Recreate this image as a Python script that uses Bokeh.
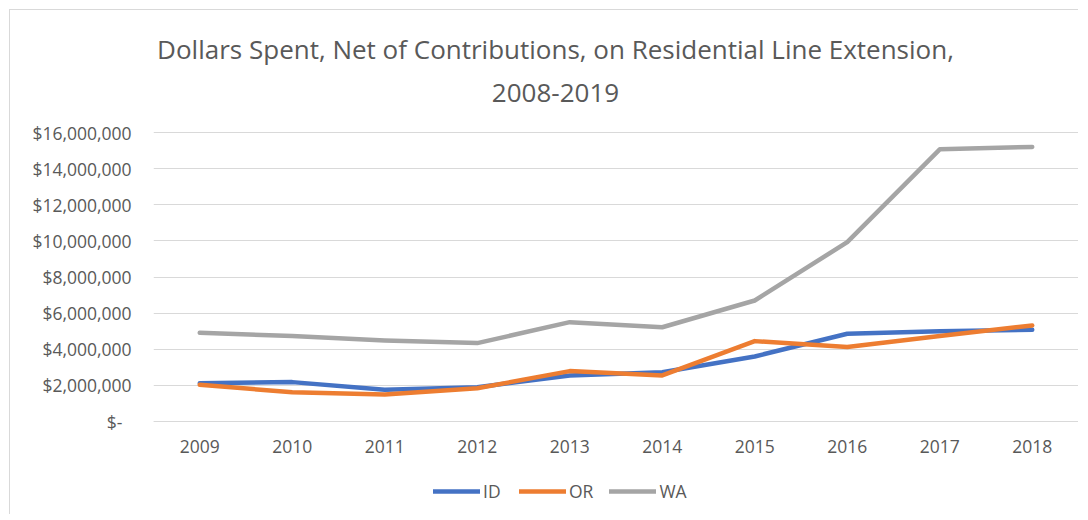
from bokeh.plotting import figure
from bokeh.models import Range1d, FactorRange, Legend, LegendItem, Label, FixedTicker
from bokeh.embed import file_html
from bokeh.resources import INLINE

# ---- data ----
years = ["2009", "2010", "2011", "2012", "2013", "2014", "2015", "2016", "2017", "2018"]
id_vals = [2120000, 2180000, 1760000, 1900000, 2550000, 2730000, 3600000, 4860000, 4990000, 5080000]
or_vals = [2030000, 1620000, 1500000, 1840000, 2790000, 2550000, 4450000, 4120000, 4730000, 5320000]
wa_vals = [4910000, 4730000, 4490000, 4340000, 5500000, 5220000, 6700000, 9930000, 15070000, 15200000]
series_names = ["ID", "OR", "WA"]
y_ticks = [0, 2000000, 4000000, 6000000, 8000000, 10000000, 12000000, 14000000, 16000000]
y_tick_labels = ["$-\u00a0\u00a0", "$2,000,000", "$4,000,000", "$6,000,000", "$8,000,000",
                 "$10,000,000", "$12,000,000", "$14,000,000", "$16,000,000"]
title_lines = ["Dollars Spent, Net of Contributions, on Residential Line Extension,", "2008-2019"]

colors = ["#4472C4", "#ED7D31", "#A5A5A5"]
FONT = "Open Sans"
TXT = "#595959"

# frame spans nearly the whole canvas so title and legend can sit inside it;
# value axis 0..16M occupies pixel rows 421..132 of the page
FRAME_TOP, FRAME_BOTTOM, Y0_PX, YMAX_PX = 20, 510, 421, 132
per_px = y_ticks[-1] / (Y0_PX - YMAX_PX)
y_start = -(FRAME_BOTTOM - Y0_PX) * per_px
y_end = y_ticks[-1] + (YMAX_PX - FRAME_TOP) * per_px

p = figure(x_range=FactorRange(*years), y_range=Range1d(y_start, y_end),
           width=1069, height=505, title_location=None,
           min_border_left=143, min_border_right=1, min_border_top=10, min_border_bottom=5,
           output_backend="svg", toolbar_location=None)
p.styles = {"margin-left": "9px", "margin-top": "9px",
            "border-left": "1px solid #d9d9d9", "border-top": "1px solid #d9d9d9"}
p.outline_line_color = None
p.background_fill_color = "white"
p.border_fill_color = "white"

renderers = []
for vals, c in zip([id_vals, or_vals, wa_vals], colors):
    r = p.line(years, vals, line_color=c, line_width=4.5, line_join="round", line_cap="round")
    renderers.append(r)

# axes
p.xgrid.grid_line_color = None
p.ygrid.grid_line_color = "#d9d9d9"
p.ygrid.grid_line_width = 1
p.yaxis.ticker = FixedTicker(ticks=y_ticks)
p.yaxis.major_label_overrides = {t: l for t, l in zip(y_ticks, y_tick_labels)}
for ax in (p.xaxis[0], p.yaxis[0]):
    ax.major_tick_line_color = None
    ax.minor_tick_line_color = None
    ax.major_label_text_font = FONT
    ax.major_label_text_font_size = "17.5px"
    ax.major_label_text_color = TXT
p.yaxis.axis_line_color = None
p.yaxis.major_label_standoff = 16
p.xaxis.axis_line_color = "#d9d9d9"
p.xaxis.major_label_standoff = 12
p.xaxis.fixed_location = 0

# title (two centred lines)
for t, yy in zip(title_lines, [FRAME_BOTTOM - 48, FRAME_BOTTOM - 92]):
    p.add_layout(Label(x=402, y=yy, x_units="screen", y_units="screen", text=t,
                       text_font=FONT, text_font_size="26px", text_color=TXT,
                       text_align="center", text_baseline="alphabetic"))

legend = Legend(items=[LegendItem(label=n, renderers=[r]) for n, r in zip(series_names, renderers)],
                orientation="horizontal", location=(280, 7),
                glyph_width=47, glyph_height=24, label_standoff=3, spacing=16,
                padding=0, margin=0, border_line_alpha=0, background_fill_alpha=0,
                label_text_font=FONT, label_text_font_size="17.5px", label_text_color=TXT)
p.add_layout(legend, "center")

open("out.html", "w").write(file_html(p, INLINE))
